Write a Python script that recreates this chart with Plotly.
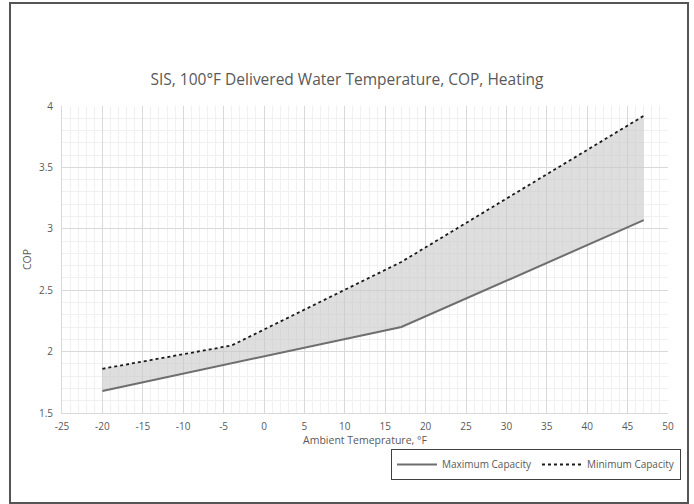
import plotly.graph_objects as go

ambient_temp = [-20, -4, 17, 47]
max_capacity_cop = [1.68, 1.905, 2.20, 3.07]
min_capacity_cop = [1.86, 2.05, 2.73, 3.92]

x_tick_vals = [-25, -20, -15, -10, -5, 0, 5, 10, 15, 20, 25, 30, 35, 40, 45, 50]
x_tick_text = ["-25", "-20", "-15", "-10", "-5", "0", "5", "10", "15", "20", "25", "30", "35", "40", "45", "50"]
y_tick_vals = [1.5, 2, 2.5, 3, 3.5, 4]
y_tick_text = ["1.5", "2", "2.5", "3", "3.5", "4"]

FONT = "Open Sans"
TXT = "#595959"

fig = go.Figure()
fig.add_trace(go.Scatter(
    x=ambient_temp, y=max_capacity_cop, mode="lines", name="Maximum Capacity",
    line=dict(color="#6e6e6e", width=2),
))
fig.add_trace(go.Scatter(
    x=ambient_temp, y=min_capacity_cop, mode="lines", name="band",
    line=dict(width=0), showlegend=False, hoverinfo="skip",
    fill="tonexty", fillcolor="rgba(200,200,200,0.6)",
))
fig.add_trace(go.Scatter(
    x=ambient_temp, y=min_capacity_cop, mode="lines", name="Minimum Capacity",
    line=dict(color="#1a1a1a", width=1.8, dash="dot"),
))

W, H = 694, 504
L, R, T, B = 62, 26, 106, 91
pw, ph = W - L - R, H - T - B

def px_x(p):
    return (p - L) / pw

def px_y(p):
    return (H - B - p) / ph

fig.update_layout(
    width=W, height=H,
    margin=dict(l=L, r=R, t=T, b=B),
    paper_bgcolor="white", plot_bgcolor="white",
    font=dict(family=FONT, color=TXT, size=10),
    title=dict(text="SIS, 100°F Delivered Water Temperature, COP, Heating",
               x=0.5, xanchor="center", y=1 - 80 / H, yanchor="middle",
               font=dict(size=15.5, color=TXT, family=FONT)),
    showlegend=True,
    legend=dict(orientation="h", x=px_x(681), xanchor="right", y=px_y(449), yanchor="top",
                bordercolor="#404040", borderwidth=1, bgcolor="white",
                font=dict(size=10, color=TXT, family=FONT),
                traceorder="normal", itemwidth=40, tracegroupgap=0),
    shapes=[dict(type="rect", xref="paper", yref="paper",
                 x0=px_x(10), x1=px_x(688), y0=px_y(503), y1=px_y(3),
                 line=dict(color="#555555", width=2), layer="below")],
)
fig.update_xaxes(
    range=[-25, 50], tickvals=x_tick_vals, ticktext=x_tick_text,
    showgrid=True, gridcolor="#d9d9d9", gridwidth=1,
    minor=dict(dtick=1, showgrid=True, gridcolor="#f0f0f0", gridwidth=1),
    showline=True, linecolor="#d9d9d9", zeroline=False, ticks="",
    ticklabelstandoff=4,
    tickfont=dict(size=10, color=TXT),
    title=dict(text="Ambient Temeprature, °F", font=dict(size=10.5, color=TXT), standoff=2),
)
fig.update_yaxes(
    range=[1.5, 4], tickvals=y_tick_vals, ticktext=y_tick_text,
    showgrid=True, gridcolor="#d9d9d9", gridwidth=1,
    minor=dict(dtick=0.1, showgrid=True, gridcolor="#f0f0f0", gridwidth=1),
    showline=True, linecolor="#d9d9d9", zeroline=False, ticks="",
    ticklabelstandoff=6,
    tickfont=dict(size=10, color=TXT),
    title=dict(text="COP", font=dict(size=10.5, color=TXT), standoff=5),
)

fig.write_html("out.html", config={"displayModeBar": False},
               post_script="document.body.style.margin='0';document.body.style.overflow='hidden';")
